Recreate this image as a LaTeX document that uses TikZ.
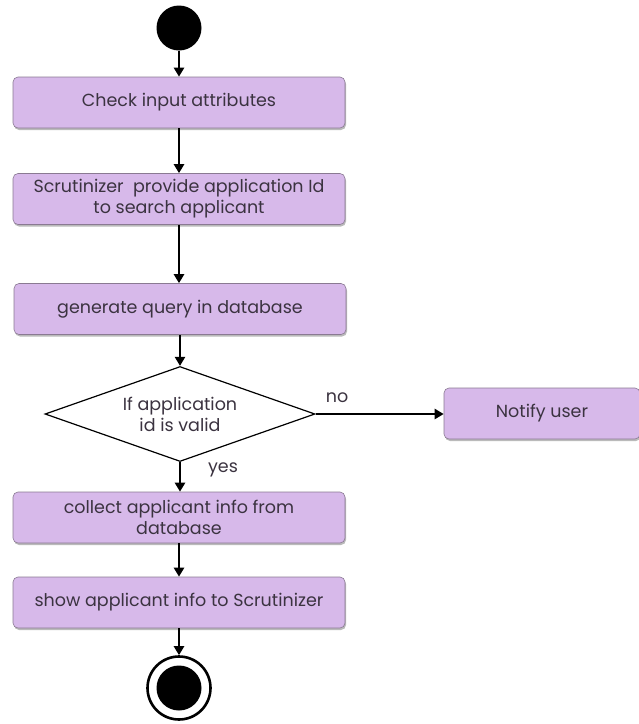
\documentclass[tikz,border=0pt]{standalone}
\usepackage{fontspec}
\setmainfont{Poppins}
\usetikzlibrary{shapes.geometric,arrows.meta,shadows}
\definecolor{boxfill}{HTML}{D7B9EA}
\definecolor{boxline}{HTML}{8A7A92}
\definecolor{txt}{HTML}{3B3340}
\tikzset{
  actbox/.style={draw=boxline, line width=0.6pt, fill=boxfill, rounded corners=5pt,
    minimum width=332pt, minimum height=51pt, align=center, text=txt,
    font=\fontsize{17.5}{21}\selectfont, inner sep=2pt,
    drop shadow={shadow xshift=1pt, shadow yshift=-2pt, fill=black!45, opacity=0.6}},
  flow/.style={line width=2.6pt, -{Triangle[width=10pt,length=9pt]}},
  lbl/.style={text=txt, font=\fontsize{17.5}{21}\selectfont}
}
\begin{document}
\begin{tikzpicture}[x=1pt,y=-1pt]
\useasboundingbox (0,0) rectangle (639,724);
\node[circle, fill=black, minimum size=45pt, inner sep=0pt] (start) at (179,28) {};
\node[actbox] (b1) at (179,102.5) {Check input attributes};
\node[actbox] (b2) at (179,199) {Scrutinizer\ \ provide application Id\\to search applicant};
\node[actbox] (b3) at (180,309) {generate query in database};
\node[diamond, draw=black, line width=1.2pt, fill=white, minimum width=270pt, minimum height=95pt,
  inner sep=0pt] (d) at (180,414) {};
\node[lbl, align=center] (dt) at (d.center) {If application\\id is valid};
\node[actbox, minimum width=196pt] (n) at (542,413.5) {Notify user};
\node[actbox] (b5) at (179,517.5) {collect applicant info from\\database};
\node[actbox] (b6) at (179,602.5) {show applicant info to Scrutinizer};
\node[circle, draw=black, line width=2.6pt, fill=white, minimum size=63pt, inner sep=0pt] (end) at (179,688) {};
\node[circle, fill=black, minimum size=45pt, inner sep=0pt] (endin) at (179,688) {};
\draw[flow] (start) -- (b1);
\draw[flow] (b1) -- (b2);
\draw[flow] (b2) -- (b3.north -| b2);
\draw[flow] (b3.south -| d.north) -- (d.north);
\draw[flow] (d.south) -- (b5.north -| d.south);
\draw[flow] (d.east) -- (n.west |- d.east);
\draw[flow] (b5) -- (b6);
\draw[flow] (b6) -- (end);
\node[lbl] (no) at (337,398) {no};
\node[lbl] (yes) at (223,470) {yes};
\end{tikzpicture}
\end{document}
